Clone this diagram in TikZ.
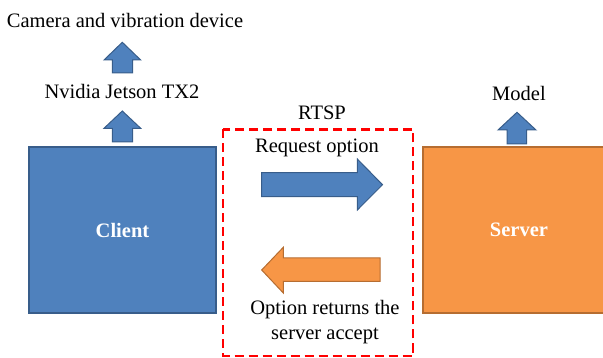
\documentclass[tikz,border=0pt]{standalone}
\usepackage{fontspec}
\setmainfont{Liberation Serif}
\definecolor{cblue}{HTML}{4F81BD}
\definecolor{cblueline}{HTML}{385D8A}
\definecolor{corange}{HTML}{F79646}
\definecolor{corangeline}{HTML}{B66D31}
\begin{document}
\begin{tikzpicture}[x=1pt,y=-1pt,
  lbl/.style={font=\fontsize{20.5}{24}\selectfont, inner sep=0pt, text=black},
  boxlbl/.style={font=\fontsize{20.5}{24}\selectfont\bfseries, text=white},
  bluebox/.style={draw=cblueline, fill=cblue, line width=1.5pt, inner sep=0pt},
  orangebox/.style={draw=corangeline, fill=corange, line width=1.5pt, inner sep=0pt},
  bluearrow/.style={draw=cblueline, fill=cblue, line width=1pt, line join=miter},
  orangearrow/.style={draw=corangeline, fill=corange, line width=1pt, line join=miter},
  rtspbox/.style={draw=red, line width=2.6pt, dash pattern=on 9pt off 5pt}]
\useasboundingbox (0,0) rectangle (603,358);

% boxes
\node[bluebox, minimum width=187pt, minimum height=166pt] (client) at (122.5,230) {};
\node[boxlbl] (clientlbl) at (client.center) {Client};
\node[orangebox, minimum width=184pt, minimum height=166pt] (server) at (515,230) {};
\node[boxlbl] (serverlbl) at (519,230) {Server};

% red dashed box
\draw[rtspbox] (223,129.5) rectangle (413,356);

% labels
\node[lbl] (camera) at (125,20) {Camera and vibration device};
\node[lbl] (jetson) at (122,91) {Nvidia Jetson TX2};
\node[lbl] (model) at (519,93) {Model};
\node[lbl] (rtsp) at (322,113) {RTSP};
\node[lbl] (request) at (317,148) {Request option};
\node[lbl, align=center, font=\fontsize{20.5}{25}\selectfont] (option) at (325,322.5) {Option returns the\\server accept};

% up arrows
\draw[bluearrow] (112.3,73) -- (112.3,60) -- (104,60) -- (122.3,42.3) -- (140.7,60) -- (132.7,60) -- (132.7,73) -- cycle;
\draw[bluearrow] (112.3,142) -- (112.3,128.3) -- (104,128.3) -- (122.3,111) -- (140.7,128.3) -- (132.7,128.3) -- (132.7,142) -- cycle;
\draw[bluearrow] (507,144) -- (507,130) -- (498,130) -- (517,112.3) -- (536,130) -- (526.7,130) -- (526.7,144) -- cycle;

% horizontal arrows
\draw[bluearrow] (261.7,172.7) -- (357.3,172.7) -- (357.3,159) -- (382.5,184.7) -- (357.3,210) -- (357.3,196.7) -- (261.7,196.7) -- cycle;
\draw[orangearrow] (380,258) -- (283.3,258) -- (283.3,247.3) -- (261.7,270) -- (283.3,293) -- (283.3,281.3) -- (380,281.3) -- cycle;
\end{tikzpicture}
\end{document}
